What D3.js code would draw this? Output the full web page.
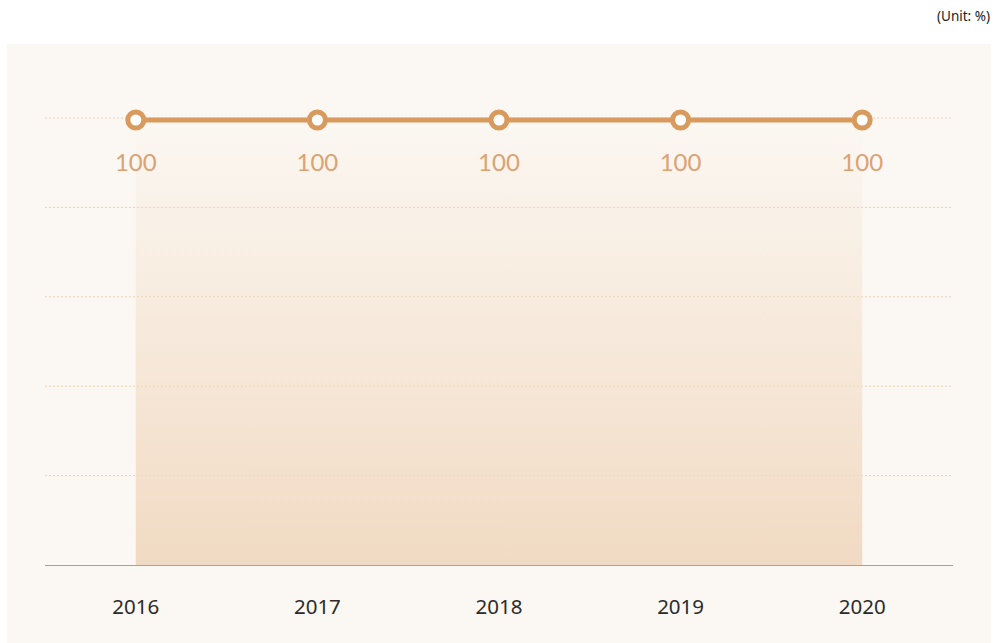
<!DOCTYPE html>
<html>
<head>
<meta charset="utf-8">
<script src="https://cdn.jsdelivr.net/npm/d3@7"></script>
<style>
  body { margin: 0; background: #fff; }
</style>
</head>
<body>
<div id="container"></div>
<script>
let w = 996;
let h = 643;

// DATA
let years = ["2016", "2017", "2018", "2019", "2020"];
let values = [100, 100, 100, 100, 100];
let yTicks = [0, 20, 40, 60, 80, 100];

let viz = d3.select("#container").append("svg")
    .attr("width", w)
    .attr("height", h)
;

// background panel
viz.append("rect")
    .attr("x", 7).attr("y", 44)
    .attr("width", 984).attr("height", h - 44)
    .attr("fill", "#fbf7f2");

viz.append("text")
    .attr("x", 990).attr("y", 21)
    .attr("text-anchor", "end")
    .attr("font-family", "Noto Sans, sans-serif")
    .attr("font-size", 13.5)
    .attr("fill", "#222")
    .text("(Unit: %)");

// SCALES
let xScale = d3.scaleBand().domain(years).range([45, 953]);
let yScale = d3.scaleLinear().domain([0, 100]).range([565, 118]);
let cx = function(d, i){ return xScale(years[i]) + xScale.bandwidth() / 2; };

// gradient for area
let defs = viz.append("defs");
let grad = defs.append("linearGradient")
    .attr("id", "areaGrad")
    .attr("x1", 0).attr("y1", 0).attr("x2", 0).attr("y2", 1);
grad.append("stop").attr("offset", "0%").attr("stop-color", "#f3dcc4").attr("stop-opacity", 0);
grad.append("stop").attr("offset", "100%").attr("stop-color", "#f1dac3").attr("stop-opacity", 1);

// gridlines
viz.selectAll(".grid").data(yTicks.slice(1)).enter()
  .append("line")
    .attr("class", "grid")
    .attr("x1", 45).attr("x2", 953)
    .attr("y1", function(d){ return yScale(d); })
    .attr("y2", function(d){ return yScale(d); })
    .attr("stroke", "#ebd1b6")
    .attr("stroke-width", 1)
    .attr("stroke-dasharray", "2,2");

// area
let areaMaker = d3.area()
    .x(cx)
    .y0(yScale(0))
    .y1(function(d){ return yScale(d); });

viz.append("path")
    .datum(values)
    .attr("d", areaMaker)
    .attr("fill", "url(#areaGrad)");

// baseline
viz.append("line")
    .attr("x1", 45).attr("x2", 953)
    .attr("y1", yScale(0) + 0.5).attr("y2", yScale(0) + 0.5)
    .attr("stroke", "#d59566")
    .attr("stroke-width", 1);

// line
let lineMaker = d3.line()
    .x(cx)
    .y(function(d){ return yScale(d) + 2; });

viz.append("path")
    .datum(values)
    .attr("d", lineMaker)
    .attr("fill", "none")
    .attr("stroke", "#d99a5e")
    .attr("stroke-width", 5);

viz.selectAll(".dot").data(values).enter()
  .append("circle")
    .attr("class", "dot")
    .attr("cx", cx)
    .attr("cy", function(d){ return yScale(d) + 2; })
    .attr("r", 8)
    .attr("fill", "#fff")
    .attr("stroke", "#d99a5e")
    .attr("stroke-width", 5);

// value labels
viz.selectAll(".val").data(values).enter()
  .append("text")
    .attr("class", "val")
    .attr("x", cx)
    .attr("y", function(d){ return yScale(d) + 53; })
    .attr("text-anchor", "middle")
    .attr("font-family", "Lato, sans-serif")
    .attr("font-weight", 400)
    .attr("font-size", 24)
    .attr("fill", "#dba272")
    .text(function(d){ return d; });

// year labels
viz.selectAll(".year").data(years).enter()
  .append("text")
    .attr("class", "year")
    .attr("x", function(d){ return xScale(d) + xScale.bandwidth() / 2; })
    .attr("y", 614)
    .attr("text-anchor", "middle")
    .attr("font-family", "Noto Sans, sans-serif")
    .attr("font-size", 20.5)
    .attr("fill", "#2b2b2b")
    .text(function(d){ return d; });
</script>
</body>
</html>
